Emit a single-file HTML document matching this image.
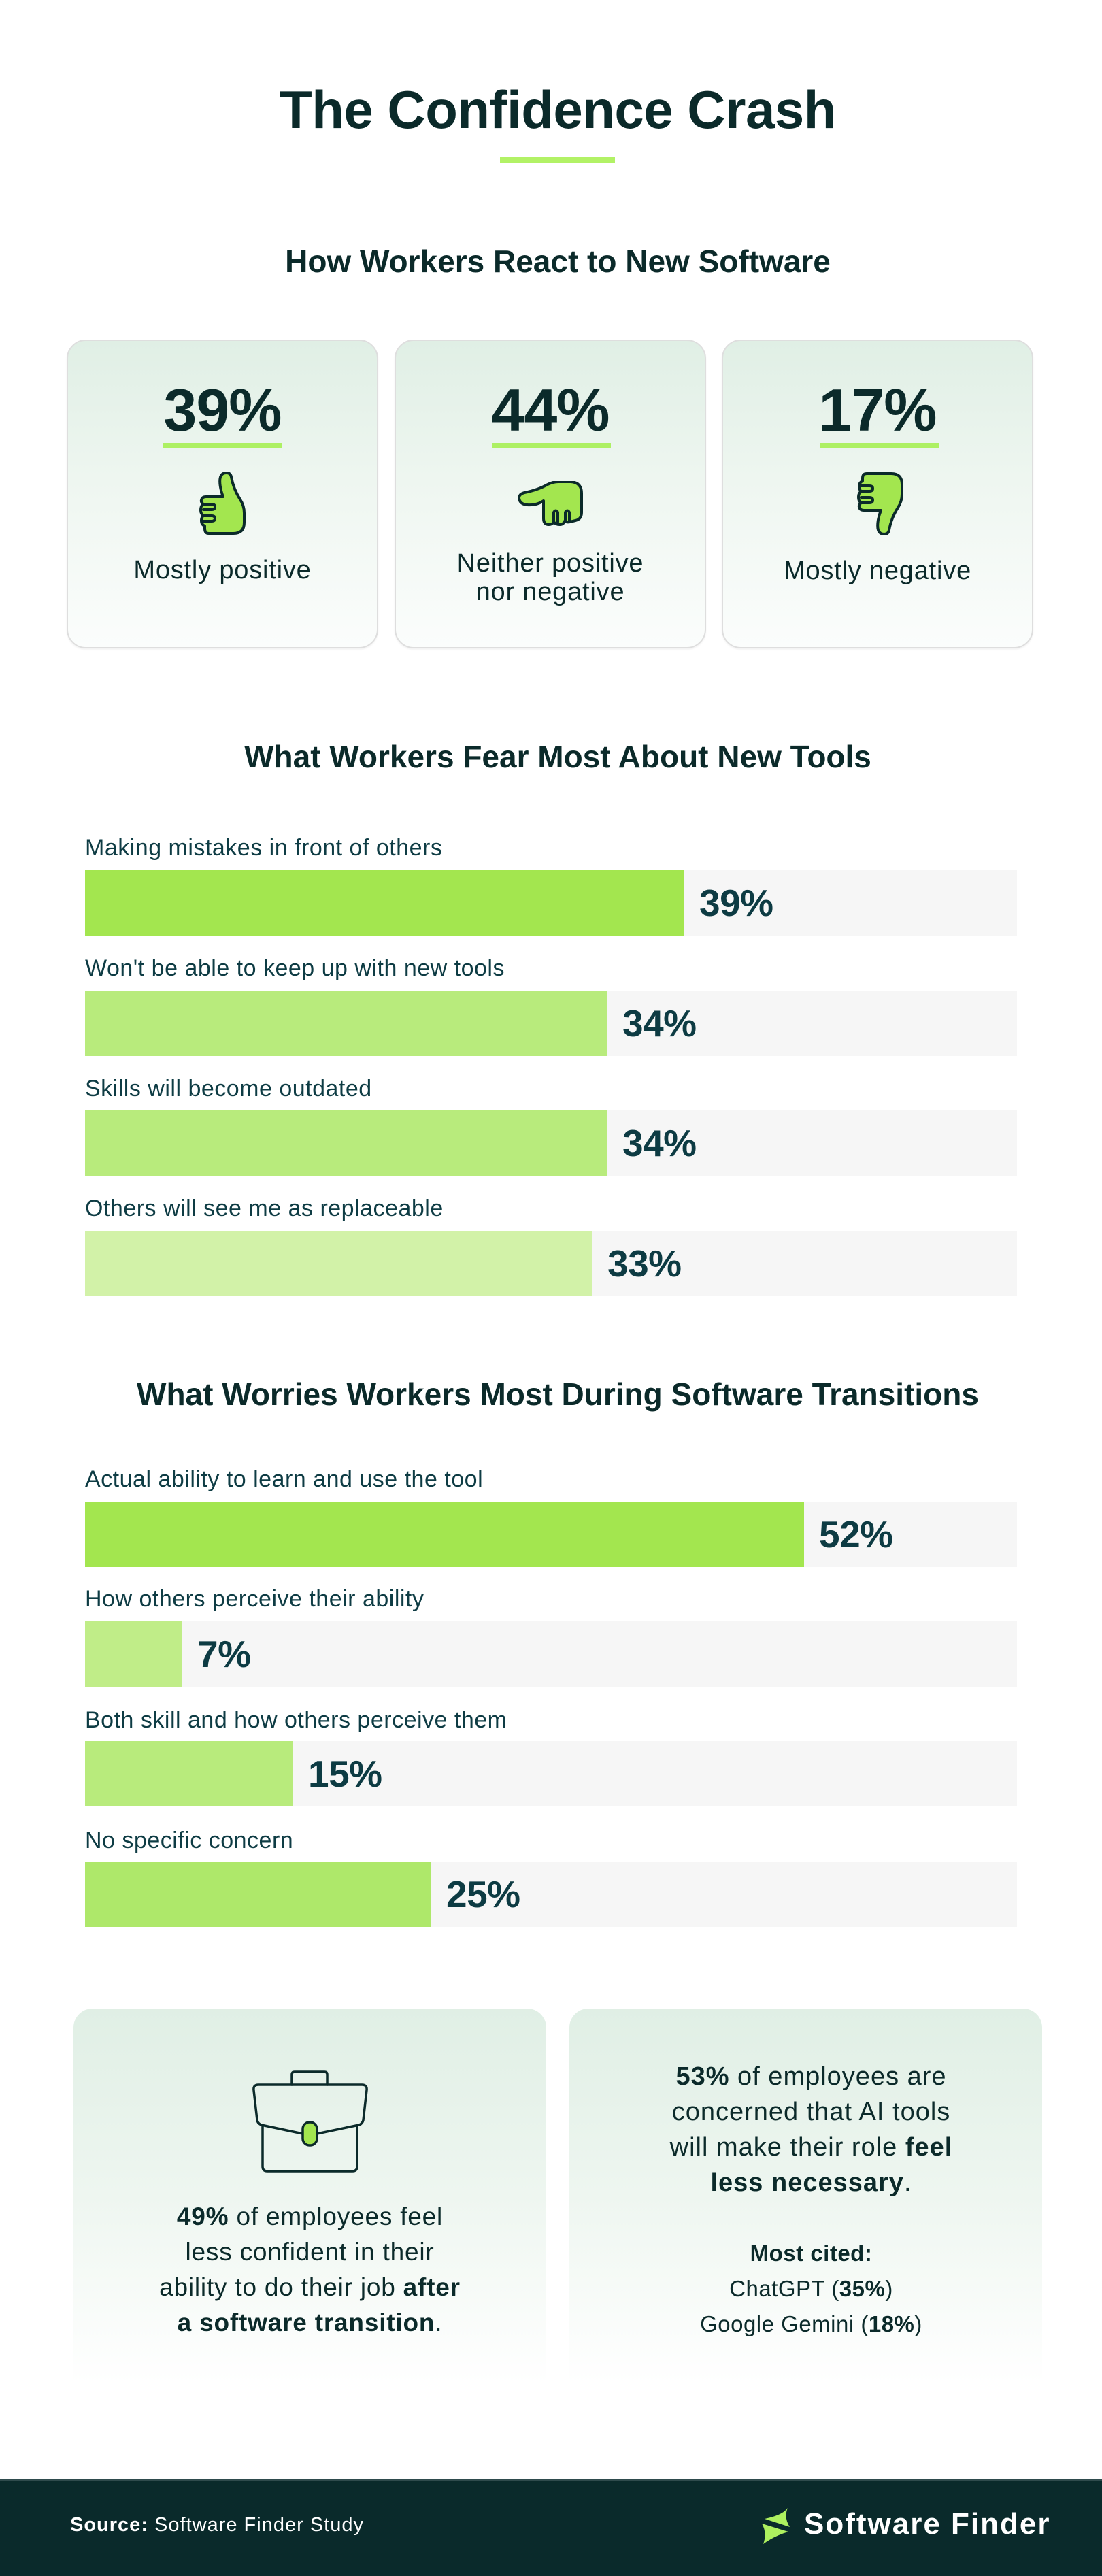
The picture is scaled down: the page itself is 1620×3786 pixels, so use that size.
<!DOCTYPE html>
<html>
<head>
<meta charset="utf-8">
<style>
  html,body{margin:0;padding:0;}
  body{width:1620px;height:3786px;position:relative;background:#ffffff;overflow:hidden;
       font-family:"Liberation Sans", Arial, sans-serif;color:#0b2a2a;}
  .abs{position:absolute;}
  .h{position:absolute;left:10px;width:1620px;text-align:center;font-weight:bold;color:#0b2a2a;white-space:nowrap;}
  .card{position:absolute;top:499px;height:450px;width:454px;border:2px solid #dedede;border-radius:28px;
        background:linear-gradient(180deg,#e0efe5 0%,#eef6f0 45%,#fbfdfc 100%);
        box-shadow:0 2px 2px rgba(0,0,0,0.05);}
  .num{position:absolute;left:0;width:100%;text-align:center;font-size:88px;line-height:88px;font-weight:bold;top:58px;color:#0b2a2a;letter-spacing:-1px;}
  .uline{position:absolute;width:175px;height:7px;background:#adf063;top:150px;}
  .clabel{position:absolute;left:0;width:100%;text-align:center;font-size:38px;letter-spacing:0.8px;color:#0b2a2a;}
  .lab{position:absolute;left:125px;font-size:34px;line-height:34px;letter-spacing:0.5px;color:#0e3c44;white-space:nowrap;}
  .track{position:absolute;left:125px;width:1370px;height:96px;background:#f6f6f6;}
  .bar{position:absolute;left:0;top:0;height:96px;}
  .pct{position:absolute;font-size:55px;line-height:55px;font-weight:bold;color:#0d3b43;white-space:nowrap;letter-spacing:-0.5px;}
  .bcard{position:absolute;top:2952px;height:550px;width:695px;border-radius:28px 28px 0 0;
         background:linear-gradient(180deg,#e0efe5 0%,#eef6f0 50%,#ffffff 100%);}
  .btext{position:absolute;text-align:center;white-space:nowrap;color:#0b2a2a;}
  b{font-weight:bold;}
</style>
</head>
<body>

<!-- Title -->
<div class="h" style="top:122px;font-size:78px;line-height:78px;letter-spacing:-0.5px;">The Confidence Crash</div>
<div class="abs" style="left:735px;top:231px;width:169px;height:8px;background:#b2f266;"></div>

<!-- Section 1 heading -->
<div class="h" style="top:361px;font-size:46px;line-height:46px;">How Workers React to New Software</div>

<!-- Cards -->
<div class="card" style="left:98px;">
  <div class="num">39%</div>
  <div class="uline" style="left:140px;"></div>
  <svg class="abs" style="left:193px;top:193px;" width="70" height="94" viewBox="0 0 70 94">
    <g fill="#a3e64f" stroke="#0b2a2a" stroke-width="4" stroke-linejoin="round" stroke-linecap="round">
      <path d="M 35 36 C 31 26 29 14 31 7 Q 33 1 40 1 Q 46 1 47 7 C 49 18 53 29 60 40 Q 66 49 66 60 L 66 74 Q 66 90 50 90 L 14 90 Q 8 90 8 83 L 8 79 Q 3 77 3 71 Q 3 66 6 64 Q 2 61 2 56 Q 2 49 6 47 Q 2 44 3 41 Q 4 36 10 36 Z"/>
      <path d="M 6 47 H 18 Q 23 47 23 51 Q 23 55 18 55 H 6" fill="none"/>
      <path d="M 6 64 H 18 Q 23 64 23 68 Q 23 72 18 72 H 6" fill="none"/>
    </g>
  </svg>
  <div class="clabel" style="top:318px;line-height:38px;">Mostly positive</div>
</div>

<div class="card" style="left:580px;">
  <div class="num">44%</div>
  <div class="uline" style="left:141px;"></div>
  <svg class="abs" style="left:179px;top:206px;" width="98" height="68" viewBox="0 0 98 68">
    <g fill="#a3e64f" stroke="#0b2a2a" stroke-width="4" stroke-linejoin="round" stroke-linecap="round">
      <path d="M 38 29 L 38 55 Q 38 64 46 64 Q 51 64 53 60 Q 56 64 62 64 Q 67 64 69 59 Q 72 61 77 60 L 85 58 Q 94 56 94 46 L 94 18 Q 94 2 78 1 L 60 1 Q 52 1 44 5 Q 30 13 10 17 Q 2 19 2 25 Q 3 34 14 35 Q 28 36 38 29 Z"/>
      <path d="M 53 60 V 46 Q 56 41 59 46 V 60" fill="none"/>
      <path d="M 70 58 V 46 Q 73 41 76 46 V 58" fill="none"/>
    </g>
  </svg>
  <div class="clabel" style="top:306px;line-height:42px;">Neither positive<br>nor negative</div>
</div>

<div class="card" style="left:1061px;">
  <div class="num">17%</div>
  <div class="uline" style="left:142px;"></div>
  <svg class="abs" style="left:197px;top:193px;" width="70" height="94" viewBox="0 0 70 94">
    <g transform="translate(0,92) scale(1,-1)" fill="#a3e64f" stroke="#0b2a2a" stroke-width="4" stroke-linejoin="round" stroke-linecap="round">
      <path d="M 35 36 C 31 26 29 14 31 7 Q 33 1 40 1 Q 46 1 47 7 C 49 18 53 29 60 40 Q 66 49 66 60 L 66 74 Q 66 90 50 90 L 14 90 Q 8 90 8 83 L 8 79 Q 3 77 3 71 Q 3 66 6 64 Q 2 61 2 56 Q 2 49 6 47 Q 2 44 3 41 Q 4 36 10 36 Z"/>
      <path d="M 6 47 H 18 Q 23 47 23 51 Q 23 55 18 55 H 6" fill="none"/>
      <path d="M 6 64 H 18 Q 23 64 23 68 Q 23 72 18 72 H 6" fill="none"/>
    </g>
  </svg>
  <div class="clabel" style="top:319px;line-height:38px;">Mostly negative</div>
</div>

<!-- Section 2 -->
<div class="h" style="top:1089px;font-size:46px;line-height:46px;">What Workers Fear Most About New Tools</div>

<div class="lab" style="top:1229px;">Making mistakes in front of others</div>
<div class="track" style="top:1279px;"><div class="bar" style="width:881px;background:#a3e64f;"></div></div>
<div class="pct" style="left:1028px;top:1300px;">39%</div>

<div class="lab" style="top:1406px;">Won't be able to keep up with new tools</div>
<div class="track" style="top:1456px;"><div class="bar" style="width:768px;background:#b8eb7c;"></div></div>
<div class="pct" style="left:915px;top:1477px;">34%</div>

<div class="lab" style="top:1583px;">Skills will become outdated</div>
<div class="track" style="top:1632px;"><div class="bar" style="width:768px;background:#b8eb7c;"></div></div>
<div class="pct" style="left:915px;top:1653px;">34%</div>

<div class="lab" style="top:1759px;">Others will see me as replaceable</div>
<div class="track" style="top:1809px;"><div class="bar" style="width:746px;background:#d2f2a8;"></div></div>
<div class="pct" style="left:893px;top:1830px;">33%</div>

<!-- Section 3 -->
<div class="h" style="top:2026px;font-size:46px;line-height:46px;">What Worries Workers Most During Software Transitions</div>

<div class="lab" style="top:2157px;">Actual ability to learn and use the tool</div>
<div class="track" style="top:2207px;"><div class="bar" style="width:1057px;background:#a3e64f;"></div></div>
<div class="pct" style="left:1204px;top:2228px;">52%</div>

<div class="lab" style="top:2333px;">How others perceive their ability</div>
<div class="track" style="top:2383px;"><div class="bar" style="width:143px;background:#c0ed88;"></div></div>
<div class="pct" style="left:290px;top:2404px;">7%</div>

<div class="lab" style="top:2511px;">Both skill and how others perceive them</div>
<div class="track" style="top:2559px;"><div class="bar" style="width:306px;background:#b8eb7c;"></div></div>
<div class="pct" style="left:453px;top:2580px;">15%</div>

<div class="lab" style="top:2688px;">No specific concern</div>
<div class="track" style="top:2736px;"><div class="bar" style="width:509px;background:#aee86a;"></div></div>
<div class="pct" style="left:656px;top:2757px;">25%</div>

<!-- Bottom cards -->
<div class="bcard" style="left:108px;"></div>
<div class="bcard" style="left:837px;"></div>

<svg class="abs" style="left:365px;top:3035px;" width="185" height="165" viewBox="365 3035 185 165">
  <g fill="none" stroke="#0b2a2a" stroke-width="3.5" stroke-linejoin="round" stroke-linecap="round">
    <path d="M 429 3064 V 3049 Q 429 3045 433 3045 H 477 Q 481 3045 481 3049 V 3064"/>
    <path d="M 445 3136 L 384 3123 Q 379 3121 378 3116 L 373 3072 Q 372 3064 380 3064 H 532 Q 540 3064 539 3072 L 534 3116 Q 533 3121 528 3123 L 466 3136"/>
    <path d="M 386 3124 V 3184 Q 386 3191 393 3191 H 518 Q 525 3191 525 3184 V 3124"/>
    <rect x="445" y="3119" width="21" height="34" rx="10" fill="#a3e64f"/>
  </g>
</svg>

<div class="btext" style="left:108px;width:695px;top:3232px;font-size:37px;line-height:52px;letter-spacing:0.8px;">
  <b>49%</b> of employees feel<br>less confident in their<br>ability to do their job <b>after</b><br><b>a software transition</b>.
</div>

<div class="btext" style="left:845px;width:695px;top:3026px;font-size:38px;line-height:52px;letter-spacing:1px;">
  <b>53%</b> of employees are<br>concerned that AI tools<br>will make their role <b>feel</b><br><b>less necessary</b>.
</div>
<div class="btext" style="left:845px;width:695px;top:3286px;font-size:33px;line-height:52px;letter-spacing:0.5px;">
  <b>Most cited:</b><br>ChatGPT (<b>35%</b>)<br>Google Gemini (<b>18%</b>)
</div>

<!-- Footer -->
<div class="abs" style="left:0;top:3644px;width:1620px;height:142px;background:#0a2a2b;border-top:2px solid #2f4b4d;box-sizing:border-box;"></div>
<div class="abs" style="left:103px;top:3697px;font-size:29px;line-height:29px;letter-spacing:1px;color:#ffffff;white-space:nowrap;"><b>Source:</b> Software Finder Study</div>
<svg class="abs" style="left:1110px;top:3680px;" width="60" height="66" viewBox="1110 3680 60 66">
  <path d="M 1158 3686 Q 1150 3697 1124 3702 L 1161 3714 Q 1152 3700 1158 3686 Z" fill="#aef05f"/>
  <path d="M 1120 3709 L 1159 3721 Q 1138 3727 1122 3739 Q 1128 3723 1120 3709 Z" fill="#aef05f"/>
</svg>
<div class="abs" style="left:1182px;top:3688px;font-size:44px;line-height:44px;letter-spacing:2px;color:#ffffff;font-weight:bold;white-space:nowrap;">Software Finder</div>

</body>
</html>
